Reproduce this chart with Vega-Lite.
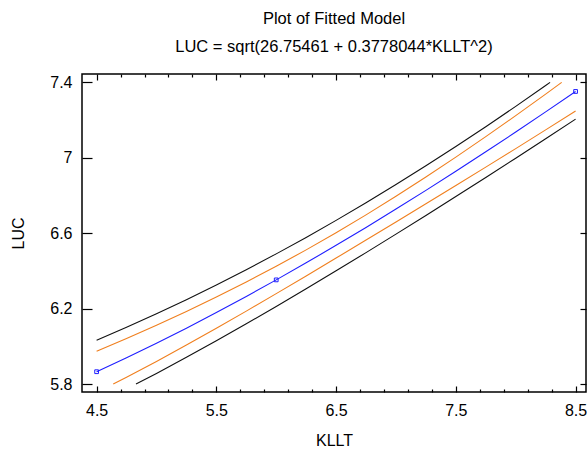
{
  "$schema": "https://vega.github.io/schema/vega-lite/v6.json",
  "autosize": "none",
  "width": 504,
  "height": 318,
  "padding": {"left": 82, "top": 74, "right": 1, "bottom": 58},
  "background": "white",
  "config": {
    "view": {"stroke": "black", "strokeWidth": 1.5},
    "font": "Liberation Sans",
    "axis": {"grid": false, "domain": false, "tickColor": "black", "tickWidth": 1.2, "labelColor": "black", "titleColor": "black", "labelFont": "Liberation Sans", "titleFont": "Liberation Sans", "labelFontSize": 16, "titleFontSize": 16, "titleFontWeight": "normal", "labelOverlap": false, "labelFlush": false}
  },
  "title": {
    "text": "Plot of Fitted Model",
    "subtitle": "LUC = sqrt(26.75461 + 0.3778044*KLLT^2)",
    "font": "Liberation Sans",
    "subtitleFont": "Liberation Sans",
    "fontSize": 16.5,
    "subtitleFontSize": 16.5,
    "fontWeight": "normal",
    "color": "black",
    "subtitleColor": "black",
    "anchor": "middle",
    "offset": 18,
    "subtitlePadding": 11
  },
  "datasets": {
    "curves": [
      {"series": "fit", "KLLT": 4.5, "LUC": 5.8656},
      {"series": "fit", "KLLT": 4.75, "LUC": 5.9396},
      {"series": "fit", "KLLT": 5.0, "LUC": 6.0166},
      {"series": "fit", "KLLT": 5.25, "LUC": 6.0965},
      {"series": "fit", "KLLT": 5.5, "LUC": 6.1793},
      {"series": "fit", "KLLT": 5.75, "LUC": 6.2647},
      {"series": "fit", "KLLT": 6.0, "LUC": 6.3526},
      {"series": "fit", "KLLT": 6.25, "LUC": 6.443},
      {"series": "fit", "KLLT": 6.5, "LUC": 6.5358},
      {"series": "fit", "KLLT": 6.75, "LUC": 6.6309},
      {"series": "fit", "KLLT": 7.0, "LUC": 6.7281},
      {"series": "fit", "KLLT": 7.25, "LUC": 6.8274},
      {"series": "fit", "KLLT": 7.5, "LUC": 6.9286},
      {"series": "fit", "KLLT": 7.75, "LUC": 7.0318},
      {"series": "fit", "KLLT": 8.0, "LUC": 7.1368},
      {"series": "fit", "KLLT": 8.25, "LUC": 7.2435},
      {"series": "fit", "KLLT": 8.5, "LUC": 7.3519},
      {"series": "confU", "KLLT": 4.5, "LUC": 5.9744},
      {"series": "confU", "KLLT": 4.75, "LUC": 6.0414},
      {"series": "confU", "KLLT": 5.0, "LUC": 6.1115},
      {"series": "confU", "KLLT": 5.25, "LUC": 6.1849},
      {"series": "confU", "KLLT": 5.5, "LUC": 6.2615},
      {"series": "confU", "KLLT": 5.75, "LUC": 6.3414},
      {"series": "confU", "KLLT": 6.0, "LUC": 6.4248},
      {"series": "confU", "KLLT": 6.25, "LUC": 6.5118},
      {"series": "confU", "KLLT": 6.5, "LUC": 6.6026},
      {"series": "confU", "KLLT": 6.75, "LUC": 6.6973},
      {"series": "confU", "KLLT": 7.0, "LUC": 6.7957},
      {"series": "confU", "KLLT": 7.25, "LUC": 6.8979},
      {"series": "confU", "KLLT": 7.5, "LUC": 7.0035},
      {"series": "confU", "KLLT": 7.75, "LUC": 7.1122},
      {"series": "confU", "KLLT": 8.0, "LUC": 7.2237},
      {"series": "confU", "KLLT": 8.25, "LUC": 7.3377},
      {"series": "confU", "KLLT": 8.384, "LUC": 7.4},
      {"series": "confL", "KLLT": 4.639, "LUC": 5.8},
      {"series": "confL", "KLLT": 4.75, "LUC": 5.8361},
      {"series": "confL", "KLLT": 5.0, "LUC": 5.9202},
      {"series": "confL", "KLLT": 5.25, "LUC": 6.0069},
      {"series": "confL", "KLLT": 5.5, "LUC": 6.096},
      {"series": "confL", "KLLT": 5.75, "LUC": 6.187},
      {"series": "confL", "KLLT": 6.0, "LUC": 6.2796},
      {"series": "confL", "KLLT": 6.25, "LUC": 6.3735},
      {"series": "confL", "KLLT": 6.5, "LUC": 6.4683},
      {"series": "confL", "KLLT": 6.75, "LUC": 6.5638},
      {"series": "confL", "KLLT": 7.0, "LUC": 6.6597},
      {"series": "confL", "KLLT": 7.25, "LUC": 6.7561},
      {"series": "confL", "KLLT": 7.5, "LUC": 6.853},
      {"series": "confL", "KLLT": 7.75, "LUC": 6.9505},
      {"series": "confL", "KLLT": 8.0, "LUC": 7.0489},
      {"series": "confL", "KLLT": 8.25, "LUC": 7.1481},
      {"series": "confL", "KLLT": 8.5, "LUC": 7.2483},
      {"series": "predU", "KLLT": 4.5, "LUC": 6.0326},
      {"series": "predU", "KLLT": 4.75, "LUC": 6.101},
      {"series": "predU", "KLLT": 5.0, "LUC": 6.1726},
      {"series": "predU", "KLLT": 5.25, "LUC": 6.2474},
      {"series": "predU", "KLLT": 5.5, "LUC": 6.3253},
      {"series": "predU", "KLLT": 5.75, "LUC": 6.4064},
      {"series": "predU", "KLLT": 6.0, "LUC": 6.4906},
      {"series": "predU", "KLLT": 6.25, "LUC": 6.5779},
      {"series": "predU", "KLLT": 6.5, "LUC": 6.6683},
      {"series": "predU", "KLLT": 6.75, "LUC": 6.7618},
      {"series": "predU", "KLLT": 7.0, "LUC": 6.8582},
      {"series": "predU", "KLLT": 7.25, "LUC": 6.9577},
      {"series": "predU", "KLLT": 7.5, "LUC": 7.06},
      {"series": "predU", "KLLT": 7.75, "LUC": 7.1651},
      {"series": "predU", "KLLT": 8.0, "LUC": 7.2729},
      {"series": "predU", "KLLT": 8.25, "LUC": 7.3833},
      {"series": "predU", "KLLT": 8.287, "LUC": 7.4},
      {"series": "predL", "KLLT": 4.829, "LUC": 5.8},
      {"series": "predL", "KLLT": 5.0, "LUC": 5.8565},
      {"series": "predL", "KLLT": 5.25, "LUC": 5.9419},
      {"series": "predL", "KLLT": 5.5, "LUC": 6.0297},
      {"series": "predL", "KLLT": 5.75, "LUC": 6.1196},
      {"series": "predL", "KLLT": 6.0, "LUC": 6.2115},
      {"series": "predL", "KLLT": 6.25, "LUC": 6.3053},
      {"series": "predL", "KLLT": 6.5, "LUC": 6.4006},
      {"series": "predL", "KLLT": 6.75, "LUC": 6.4973},
      {"series": "predL", "KLLT": 7.0, "LUC": 6.5954},
      {"series": "predL", "KLLT": 7.25, "LUC": 6.6945},
      {"series": "predL", "KLLT": 7.5, "LUC": 6.7948},
      {"series": "predL", "KLLT": 7.75, "LUC": 6.8959},
      {"series": "predL", "KLLT": 8.0, "LUC": 6.9981},
      {"series": "predL", "KLLT": 8.25, "LUC": 7.1011},
      {"series": "predL", "KLLT": 8.5, "LUC": 7.205}
    ],
    "obs": [
      {"KLLT": 4.5, "LUC": 5.8656},
      {"KLLT": 6.0, "LUC": 6.3526},
      {"KLLT": 8.5, "LUC": 7.3519}
    ]
  },
  "resolve": {"axis": {"x": "independent", "y": "independent"}},
  "layer": [
    {
      "data": {"name": "curves"},
      "mark": {"type": "line", "strokeWidth": 1.1, "clip": true},
      "encoding": {
        "x": {
          "field": "KLLT", "type": "quantitative",
          "scale": {"domain": [4.378, 8.587], "nice": false, "zero": false},
          "axis": {
            "orient": "bottom", "title": "KLLT",
            "values": [4.5, 4.7, 4.9, 5.1, 5.3, 5.5, 5.7, 5.9, 6.1, 6.3, 6.5, 6.7, 6.9, 7.1, 7.3, 7.5, 7.7, 7.9, 8.1, 8.3, 8.5],
            "labelExpr": "indexof([4.5, 5.5, 6.5, 7.5, 8.5], datum.value) >= 0 ? format(datum.value, '.1f') : ''",
            "tickSize": {"condition": {"test": "indexof([4.5, 5.5, 6.5, 7.5, 8.5], datum.value) >= 0", "value": -6}, "value": -3},
            "labelPadding": 16,
            "titlePadding": 11
          }
        },
        "y": {
          "field": "LUC", "type": "quantitative",
          "scale": {"domain": [5.758, 7.4445], "nice": false, "zero": false},
          "axis": {
            "orient": "left", "title": "LUC",
            "values": [5.8, 6.2, 6.6, 7.0, 7.4],
            "format": "~g",
            "tickSize": -10,
            "labelPadding": 20,
            "titlePadding": 23
          }
        },
        "detail": {"field": "series"},
        "color": {
          "field": "series", "type": "nominal", "legend": null,
          "scale": {"domain": ["fit", "confU", "confL", "predU", "predL"], "range": ["#1f1fff", "#f07f1e", "#f07f1e", "#111111", "#111111"]}
        }
      }
    },
    {
      "data": {"name": "obs"},
      "mark": {"type": "square", "filled": false, "size": 14, "strokeWidth": 1, "color": "#1f1fff", "opacity": 1},
      "encoding": {
        "x": {
          "field": "KLLT", "type": "quantitative",
          "axis": {
            "orient": "top", "title": null, "labels": false,
            "values": [4.5, 4.7, 4.9, 5.1, 5.3, 5.5, 5.7, 5.9, 6.1, 6.3, 6.5, 6.7, 6.9, 7.1, 7.3, 7.5, 7.7, 7.9, 8.1, 8.3, 8.5],
            "tickSize": {"condition": {"test": "indexof([4.5, 5.5, 6.5, 7.5, 8.5], datum.value) >= 0", "value": -6}, "value": -3}
          }
        },
        "y": {
          "field": "LUC", "type": "quantitative",
          "axis": {"orient": "right", "title": null, "labels": false, "values": [5.8, 6.2, 6.6, 7.0, 7.4], "tickSize": -6}
        }
      }
    }
  ]
}
